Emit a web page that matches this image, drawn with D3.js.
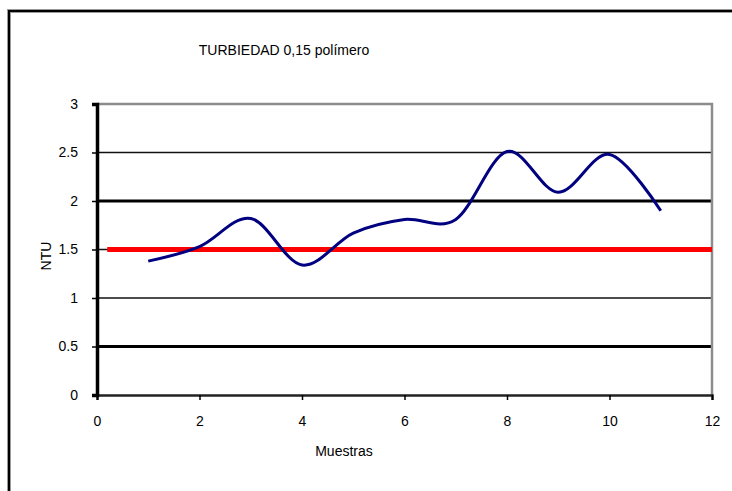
<!DOCTYPE html>
<html>
<head>
<meta charset="utf-8">
<script src="https://cdn.jsdelivr.net/npm/d3@7/dist/d3.min.js"></script>
<style>
  html, body { margin: 0; padding: 0; background: #fff; }
  svg { display: block; }
  text { font-family: Arial, "Liberation Sans", sans-serif; fill: #000; }
</style>
</head>
<body>
<svg id="chart" width="732" height="491"></svg>
<script>
// ---- data ----
const muestras = [1, 2, 3, 4, 5, 6, 7, 8, 9, 10, 11];
const ntu = [1.38, 1.53, 1.82, 1.34, 1.67, 1.81, 1.81, 2.51, 2.09, 2.48, 1.90];
const limitX = [0.2, 12];
const limitY = [1.5, 1.5];
const xTicks = [0, 2, 4, 6, 8, 10, 12];
const yTicks = [0, 0.5, 1, 1.5, 2, 2.5, 3];
const thickGrid = [0.5, 2];
const thinGrid = [1, 1.5, 2.5];
const title = "TURBIEDAD 0,15 polímero";
const xTitle = "Muestras";
const yTitle = "NTU";

// ---- layout ----
const svg = d3.select("#chart");
const pLeft = 97, pRight = 712, pTop = 104, pBottom = 395;
const x = d3.scaleLinear().domain([0, 12]).range([pLeft, pRight]);
const y = d3.scaleLinear().domain([0, 3]).range([pBottom, pTop]);

// outer chart border (cropped at right/bottom)
svg.append("path")
  .attr("d", "M9,491 L9,11 L732,11")
  .attr("fill", "none").attr("stroke", "#999").attr("stroke-width", 4);
svg.append("path")
  .attr("d", "M9,491 L9,11 L732,11")
  .attr("fill", "none").attr("stroke", "#000").attr("stroke-width", 2);

// title
svg.append("text").attr("x", 284).attr("y", 55).attr("text-anchor", "middle")
  .style("font-size", "14px").text(title);

// gridlines
svg.append("g").selectAll("line").data(thinGrid).join("line")
  .attr("x1", pLeft).attr("x2", pRight)
  .attr("y1", d => y(d)).attr("y2", d => y(d))
  .attr("stroke", "#111").attr("stroke-width", 1.6);
svg.append("g").selectAll("line").data(thickGrid).join("line")
  .attr("x1", pLeft).attr("x2", pRight)
  .attr("y1", d => y(d)).attr("y2", d => y(d))
  .attr("stroke", "#000").attr("stroke-width", 3);

// plot border top/right (gray)
svg.append("path")
  .attr("d", `M${pLeft},${y(3)} L${pRight},${y(3)} L${pRight},${pBottom}`)
  .attr("fill", "none").attr("stroke", "#8c8c8c").attr("stroke-width", 2.5);

// x axis
const xAxis = d3.axisBottom(x).tickValues(xTicks).tickSize(5).tickPadding(16).tickFormat(d3.format("d"));
const gx = svg.append("g").attr("transform", `translate(0,${pBottom})`).call(xAxis);
gx.select(".domain").attr("stroke", "#222").attr("stroke-width", 2.5);
gx.selectAll(".tick line").attr("stroke", "#000").attr("stroke-width", 1.5);
gx.selectAll("text").style("font-size", "14px").style("font-family", "Arial, 'Liberation Sans', sans-serif");

// y axis
const yAxis = d3.axisLeft(y).tickValues(yTicks).tickSize(5).tickPadding(14).tickFormat(d => String(d));
const gy = svg.append("g").attr("transform", `translate(${pLeft},0)`).call(yAxis);
gy.select(".domain").attr("stroke", "#000").attr("stroke-width", 3.5);
gy.selectAll(".tick line").attr("stroke", "#000").attr("stroke-width", 1.5);
gy.selectAll("text").style("font-size", "14px").style("font-family", "Arial, 'Liberation Sans', sans-serif");

// axis titles
svg.append("text").attr("x", 344).attr("y", 456).attr("text-anchor", "middle")
  .style("font-size", "14px").text(xTitle);
svg.append("text").attr("transform", "translate(51,256) rotate(-90)").attr("text-anchor", "middle")
  .style("font-size", "14px").text(yTitle);

// limit line (red)
const limitData = limitX.map((d, i) => [d, limitY[i]]);
svg.append("path").datum(limitData)
  .attr("d", d3.line().x(d => x(d[0])).y(d => y(d[1])))
  .attr("fill", "none").attr("stroke", "#ff0000").attr("stroke-width", 5);

// series line (navy, smoothed)
const series = muestras.map((d, i) => [d, ntu[i]]);
svg.append("path").datum(series)
  .attr("d", d3.line().x(d => x(d[0])).y(d => y(d[1])).curve(d3.curveCatmullRom.alpha(0)))
  .attr("fill", "none").attr("stroke", "#000080").attr("stroke-width", 3)
  .attr("stroke-linejoin", "round");
</script>
</body>
</html>
